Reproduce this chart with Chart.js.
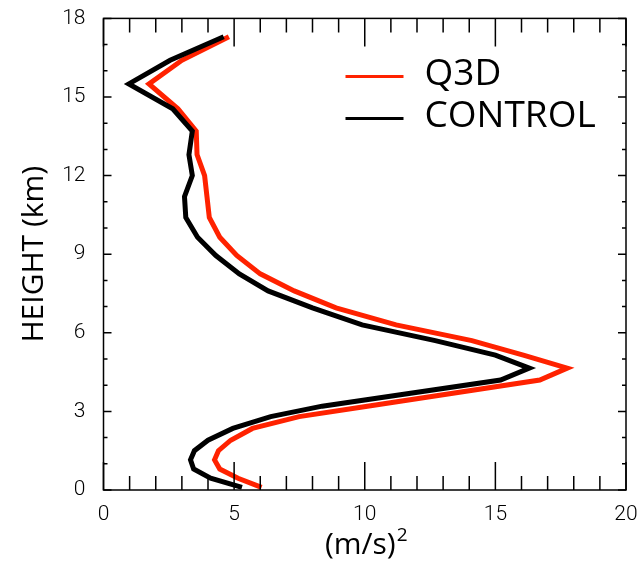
<!DOCTYPE html>
<html>
<head>
<meta charset="utf-8">
<script src="https://cdn.jsdelivr.net/npm/chart.js@4.4.0/dist/chart.umd.min.js"></script>
<style>
  html, body { margin: 0; padding: 0; background: #fff; }
  #wrap { width: 643px; height: 565px; }
</style>
</head>
<body>
<div id="wrap"><canvas id="chart" width="643" height="565"></canvas></div>
<script>
// height levels (km) and variance profiles, (m/s)^2
const heights = [0.1, 0.45, 0.8, 1.15, 1.5, 1.9, 2.35, 2.8, 3.2, 4.2, 4.65, 5.15, 5.7, 6.3, 6.95, 7.6, 8.25, 8.95, 9.65, 10.4, 11.2, 12.0, 12.8, 13.7, 14.55, 15.5, 16.4, 17.3];
const control = [5.3, 4.1, 3.45, 3.33, 3.48, 4.0, 4.95, 6.4, 8.37, 15.2, 16.3, 15.0, 12.7, 9.9, 8.0, 6.3, 5.2, 4.3, 3.6, 3.15, 3.1, 3.4, 3.27, 3.4, 2.65, 0.97, 2.55, 4.6];
const q3d = [6.05, 5.15, 4.45, 4.25, 4.4, 4.87, 5.7, 7.49, 10.1, 16.7, 17.75, 16.07, 14.1, 11.2, 8.9, 7.3, 6.0, 5.1, 4.45, 4.05, 3.96, 3.87, 3.58, 3.55, 2.85, 1.74, 3.0, 4.8];

const xTicks = [0, 5, 10, 15, 20];
const yTicks = [0, 3, 6, 9, 12, 15, 18];
const legendNames = ['Q3D', 'CONTROL'];
const colors = { Q3D: '#ff2200', CONTROL: '#000000' };

const toPoints = vals => vals.map((v, i) => ({ x: v, y: heights[i] }));

// box + inward ticks on all four sides, IDL style
const frame = {
  id: 'frame',
  afterDatasetsDraw(chart) {
    const { ctx, chartArea: a, scales: { x, y } } = chart;
    ctx.save();
    ctx.strokeStyle = '#000';
    ctx.lineWidth = 1.5;
    ctx.strokeRect(a.left, a.top, a.right - a.left, a.bottom - a.top);
    ctx.beginPath();
    for (let v = xTicks[0]; v <= xTicks[xTicks.length - 1]; v++) {
      const px = x.getPixelForValue(v);
      const len = xTicks.includes(v) ? 28 : 14;
      ctx.moveTo(px, a.bottom); ctx.lineTo(px, a.bottom - len);
      ctx.moveTo(px, a.top); ctx.lineTo(px, a.top + len);
    }
    for (let v = yTicks[0]; v <= yTicks[yTicks.length - 1]; v++) {
      const py = y.getPixelForValue(v);
      const len = yTicks.includes(v) ? 8 : 4;
      ctx.moveTo(a.left, py); ctx.lineTo(a.left + len, py);
      ctx.moveTo(a.right, py); ctx.lineTo(a.right - len, py);
    }
    ctx.stroke();

    // x title with a real superscript
    const cx = (a.left + a.right) / 2 + 1;
    ctx.fillStyle = '#000';
    ctx.textBaseline = 'alphabetic';
    ctx.font = '30px "Open Sans"';
    const main = '(m/s)';
    const w1 = ctx.measureText(main).width;
    ctx.font = '19px "Open Sans"';
    const w2 = ctx.measureText('2').width;
    const x0 = cx - (w1 + w2) / 2;
    ctx.font = '30px "Open Sans"';
    ctx.fillText(main, x0, a.bottom + 64);
    ctx.font = '19px "Open Sans"';
    ctx.fillText('2', x0 + w1 + 1, a.bottom + 51);
    ctx.restore();
  }
};

const legendBox = {
  id: 'legendBox',
  afterDraw(chart) {
    const { ctx, chartArea: a } = chart;
    ctx.save();
    ctx.font = '37px "Open Sans"';
    ctx.textBaseline = 'alphabetic';
    legendNames.forEach((name, i) => {
      const ly = a.top + 58 + i * 42;
      ctx.strokeStyle = colors[name];
      ctx.lineWidth = 3;
      ctx.beginPath();
      ctx.moveTo(a.left + 242, ly);
      ctx.lineTo(a.left + 300, ly);
      ctx.stroke();
      ctx.fillStyle = '#000';
      ctx.fillText(name, a.left + 321, ly + 9);
    });
    ctx.restore();
  }
};

new Chart(document.getElementById('chart'), {
  type: 'scatter',
  data: {
    datasets: [
      { label: 'CONTROL', data: toPoints(control), borderColor: colors.CONTROL, borderWidth: 5, showLine: true, pointRadius: 0, tension: 0, borderJoinStyle: 'miter', clip: 6 },
      { label: 'Q3D', data: toPoints(q3d), borderColor: colors.Q3D, borderWidth: 5, showLine: true, pointRadius: 0, tension: 0, borderJoinStyle: 'miter', clip: 6 }
    ]
  },
  options: {
    responsive: false,
    animation: false,
    devicePixelRatio: 1,
    layout: { padding: { top: 15, right: 17, left: 0, bottom: 0 } },
    plugins: { legend: { display: false }, tooltip: { enabled: false } },
    scales: {
      x: {
        type: 'linear', min: 0, max: 20,
        afterFit: s => { s.height = 75; },
        afterBuildTicks: s => { s.ticks = xTicks.map(v => ({ value: v })); },
        grid: { display: false },
        border: { display: false },
        ticks: { color: '#000', font: { family: 'Roboto', size: 21, weight: '300' }, padding: 4 },
        title: { display: false }
      },
      y: {
        type: 'linear', min: 0, max: 18,
        afterFit: s => { s.width = 103.5; },
        afterBuildTicks: s => { s.ticks = yTicks.map(v => ({ value: v })); },
        grid: { display: false },
        border: { display: false },
        ticks: { color: '#000', font: { family: 'Roboto', size: 21, weight: '300', lineHeight: 0.8 }, padding: 10 },
        title: { display: true, text: 'HEIGHT (km)', color: '#000', font: { family: 'Open Sans', size: 30 }, padding: { top: 16, bottom: 0 } }
      }
    }
  },
  plugins: [frame, legendBox]
});
</script>
</body>
</html>
